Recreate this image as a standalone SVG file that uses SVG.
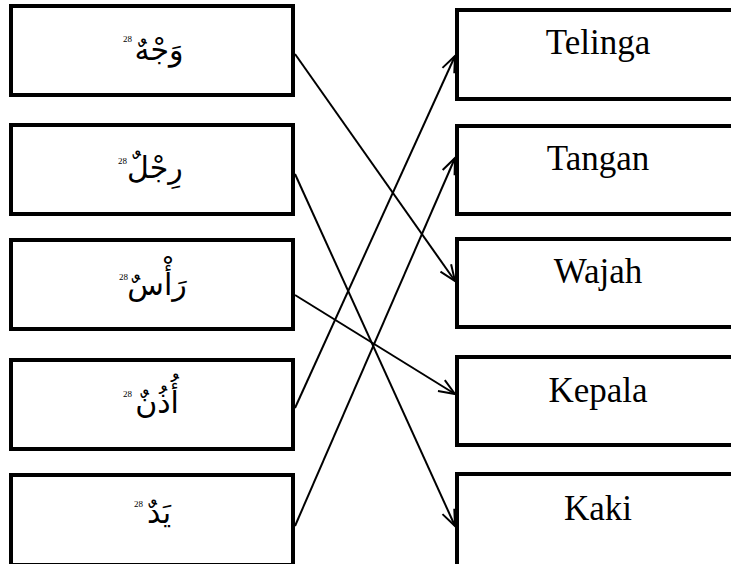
<svg xmlns="http://www.w3.org/2000/svg" width="731" height="564" viewBox="0 0 731 564">
<defs>
<style>
.box{fill:#fff;stroke:#000;stroke-width:4}
.lbl{font-family:"Liberation Serif","Times New Roman",serif;font-size:35px;fill:#000;text-anchor:middle}
.ar{font-family:"DejaVu Sans","Noto Sans",sans-serif;font-size:30px;fill:#000;text-anchor:middle}
.fn{font-family:"Liberation Serif",serif;font-size:9px;fill:#000;text-anchor:end}
.con{fill:none;stroke:#000;stroke-width:2}
</style>
<marker id="arr" markerUnits="userSpaceOnUse" markerWidth="20" markerHeight="16" viewBox="-17 -8 19 16" refX="0" refY="0" orient="auto">
<path d="M -16 -6.5 L 0 0 L -16 6.5" fill="none" stroke="#000" stroke-width="2"/>
</marker>
</defs>
<rect width="731" height="564" fill="#fff"/>
<g id="connectors">
<line class="con" x1="295" y1="54" x2="455" y2="281" marker-end="url(#arr)"/>
<line class="con" x1="295" y1="174" x2="455" y2="526" marker-end="url(#arr)"/>
<line class="con" x1="295" y1="295" x2="455" y2="394" marker-end="url(#arr)"/>
<line class="con" x1="295" y1="408" x2="455" y2="56" marker-end="url(#arr)"/>
<line class="con" x1="295" y1="526" x2="455" y2="158" marker-end="url(#arr)"/>
</g>
<g id="l1"><rect class="box" x="11" y="6" width="282" height="89"/><text class="ar" x="159" y="60">وَجْهٌ</text><text class="fn" x="132" y="42">28</text></g>
<g id="l2"><rect class="box" x="11" y="125" width="282" height="89"/><text class="ar" x="155" y="178">رِجْلٌ</text><text class="fn" x="127" y="164">28</text></g>
<g id="l3"><rect class="box" x="11" y="240" width="282" height="89"/><text class="ar" x="157" y="295">رَأْسٌ</text><text class="fn" x="128" y="280">28</text></g>
<g id="l4"><rect class="box" x="11" y="360" width="282" height="89"/><text class="ar" x="157" y="413">أُذُنٌ</text><text class="fn" x="132" y="397">28</text></g>
<g id="l5"><rect class="box" x="11" y="475" width="282" height="90"/><text class="ar" x="159" y="523">يَدٌ</text><text class="fn" x="143" y="507">28</text></g>
<g id="r1"><rect class="box" x="457" y="10" width="290" height="89"/><text class="lbl" x="598" y="54">Telinga</text></g>
<g id="r2"><rect class="box" x="457" y="126" width="290" height="88"/><text class="lbl" x="598" y="170">Tangan</text></g>
<g id="r3"><rect class="box" x="457" y="239" width="290" height="88"/><text class="lbl" x="598" y="283">Wajah</text></g>
<g id="r4"><rect class="box" x="457" y="357" width="290" height="88"/><text class="lbl" x="598" y="402">Kepala</text></g>
<g id="r5"><rect class="box" x="457" y="474" width="290" height="92"/><text class="lbl" x="598" y="520">Kaki</text></g>
</svg>
